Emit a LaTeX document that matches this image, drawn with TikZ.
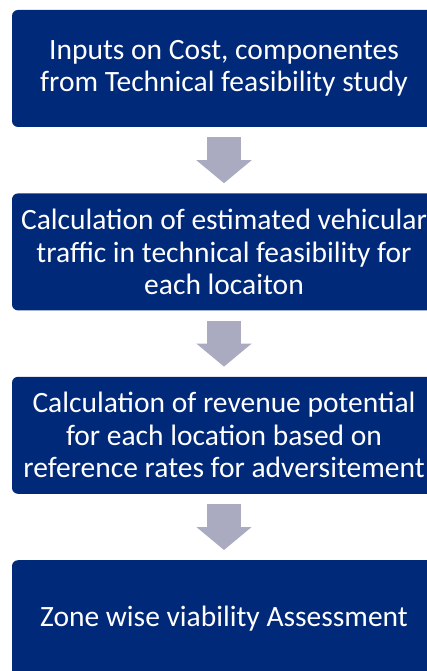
\documentclass[tikz,border=0pt]{standalone}
\usepackage{fontspec}
\setmainfont{Carlito}
\usetikzlibrary{positioning,arrows.meta}
\definecolor{stepblue}{RGB}{0,41,122}
\definecolor{arrowgray}{RGB}{170,170,192}
\begin{document}
\begin{tikzpicture}[x=1pt,y=1pt,
  stepbox/.style={fill=stepblue,text=white,rounded corners=6pt,
    minimum width=424pt,minimum height=117pt,align=center,
    font=\fontsize{29.5}{32.5}\selectfont},
  flow/.style={draw=arrowgray,line width=34pt,shorten <=10pt,shorten >=10pt,
    -{Triangle[width=54pt,length=23pt]}},
  node distance=66pt]
\useasboundingbox (0,0) rectangle (427,-671);
\clip (0,0) rectangle (427,-671);

\node[stepbox] (inputs) at (224,-68.5) {Inputs on Cost, componentes\\from Technical feasibility study};
\node[stepbox, below=of inputs] (traffic) {Calculation of estimated vehicular\\traffic in technical feasibility for\\each locaiton};
\node[stepbox, below=of traffic] (revenue) {Calculation of revenue potential\\for each location based on\\reference rates for adversitement};
\node[stepbox, below=of revenue] (zone) {Zone wise viability Assessment};

\draw[flow] (inputs) -- (traffic);
\draw[flow] (traffic) -- (revenue);
\draw[flow] (revenue) -- (zone);

\end{tikzpicture}
\end{document}
